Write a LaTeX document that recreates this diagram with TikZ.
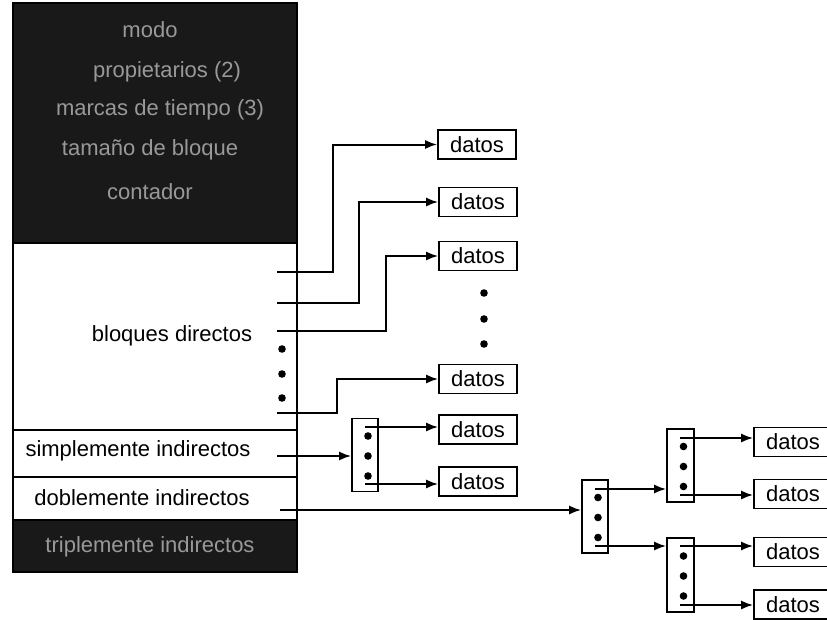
\documentclass[tikz,border=0pt]{standalone}
\usepackage{fontspec}
\setmainfont{Liberation Sans}
\usetikzlibrary{arrows.meta,calc}

\tikzset{
  datos/.style={draw, line width=1.6pt, minimum width=78pt, minimum height=29pt, inner sep=0pt},
  indice/.style={draw, line width=1.6pt, minimum width=26pt, minimum height=73pt, inner sep=0pt},
  ptr/.style={line width=2pt, -{Latex[length=12pt,width=9pt]}},
  oscuro/.style={text=black!40},
  campo/.style={line width=1.8pt}
}

\begin{document}
\begin{tikzpicture}[x=1pt,y=-1pt,font=\fontsize{22}{26}\selectfont]

\useasboundingbox (0,0) rectangle (827,619);
\clip (0,0) rectangle (827,619);

% inodo
\fill[black!90] (13,3) rectangle (297,243);
\fill[black!90] (13,520) rectangle (297,572);
\draw[campo] (13,3) rectangle (297,572);
\draw[campo] (13,243) -- (297,243);
\draw[campo] (13,430) -- (297,430);
\draw[campo] (13,477) -- (297,477);
\draw[campo] (13,520) -- (297,520);

\node[oscuro] (modo) at (150,30) {modo};
\node[oscuro] (prop) at (167,72) {propietarios (2)};
\node[oscuro] (marcas) at (160,110) {marcas de tiempo (3)};
\node[oscuro] (tam) at (150,150) {tamaño de bloque};
\node[oscuro] (cont) at (150,192) {contador};
\node (dir) at (172,336) {bloques directos};
\node (simple) at (138,451) {simplemente indirectos};
\node (doble) at (142,498) {doblemente indirectos};
\node[oscuro] (triple) at (150,547) {triplemente indirectos};

% bloques de datos
\node[datos] (b1) at (477,144.5) {datos};
\node[datos] (b2) at (478,202) {datos};
\node[datos] (b3) at (478,256) {datos};
\node[datos] (b4) at (478,379) {datos};
\node[datos] (b5) at (478,429.5) {datos};
\node[datos] (b6) at (478,481.5) {datos};
\node[datos] (b7) at (793,442) {datos};
\node[datos] (b8) at (793,494) {datos};
\node[datos] (b9) at (793,552) {datos};
\node[datos] (b10) at (793,604.5) {datos};

% bloques de indices
\node[indice] (ib1) at (365,455) {};
\node[indice] (ib2) at (595,516.5) {};
\node[indice, minimum width=27pt] (ib3) at (680.5,465.5) {};
\node[indice, minimum width=27pt, minimum height=74pt] (ib4) at (680.5,575) {};

\foreach \b in {ib1,ib2,ib3,ib4}
  \foreach \dy in {-19,1,21}
    \fill ($(\b.center)+(3,\dy)$) circle (3.8pt);

\foreach \y in {349,374,398}
  \fill (282,\y) circle (3.8pt);
\foreach \y in {293,319,344}
  \fill (484,\y) circle (3.8pt);

% punteros directos
\coordinate (d1) at (277,272);
\coordinate (d2) at (277,303);
\coordinate (d3) at (277,331);
\coordinate (d4) at (277,413);
\draw[ptr] (d1) -- ++(56,0) |- (b1);
\draw[ptr] (d2) -- ++(82,0) |- (b2);
\draw[ptr] (d3) -- ++(109,0) |- (b3);
\draw[ptr] (d4) -- ++(60,0) |- (b4);

% simplemente indirectos
\coordinate (s) at (277,456);
\draw[ptr] (s) -- (s -| ib1.west);
\coordinate (s1) at (365,427);
\coordinate (s2) at (365,484);
\draw[ptr] (s1) -- (s1 -| b5.west);
\draw[ptr] (s2) -- (s2 -| b6.west);

% doblemente indirectos
\coordinate (t) at (280,510);
\draw[ptr] (t) -- (t -| ib2.west);
\coordinate (t1) at (595,489);
\coordinate (t2) at (595,546);
\draw[ptr] (t1) -- (t1 -| ib3.west);
\draw[ptr] (t2) -- (t2 -| ib4.west);
\coordinate (u1) at (680,438);
\coordinate (u2) at (680,495);
\coordinate (u3) at (680,546);
\coordinate (u4) at (680,605);
\draw[ptr] (u1) -- (u1 -| b7.west);
\draw[ptr] (u2) -- (u2 -| b8.west);
\draw[ptr] (u3) -- (u3 -| b9.west);
\draw[ptr] (u4) -- (u4 -| b10.west);

\end{tikzpicture}
\end{document}
